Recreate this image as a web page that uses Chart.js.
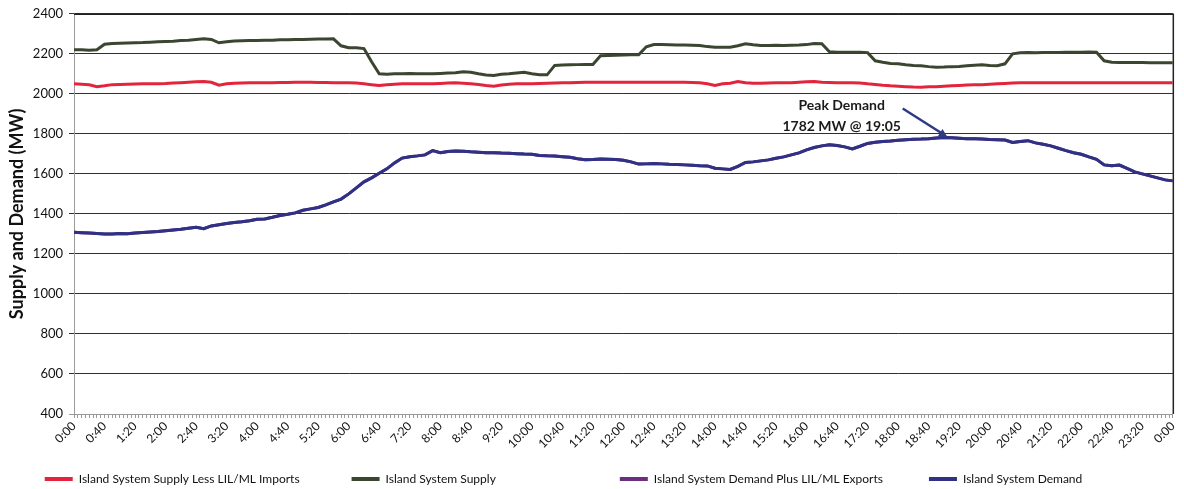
<!DOCTYPE html>
<html>
<head>
<meta charset="utf-8">
<script src="https://cdn.jsdelivr.net/npm/chart.js@4.4.1/dist/chart.umd.min.js"></script>
<style>
  html, body { margin: 0; padding: 0; background: #fff; }
  #wrap { width: 1184px; height: 489px; position: relative; }
</style>
</head>
<body>
<div id="wrap"><canvas id="supplyChart"></canvas></div>
<script>
// readings every 10 minutes, 0:00 -> 24:00 (one row per hour)
const stepMinutes = 10;

const supplyLessImports = [
  2050, 2048, 2045, 2036, 2040, 2046,
  2047, 2048, 2049, 2050, 2050, 2051,
  2052, 2054, 2056, 2058, 2060, 2062,
  2058, 2043, 2050, 2053, 2054, 2055,
  2055, 2056, 2056, 2057, 2057, 2058,
  2058, 2058, 2057, 2057, 2056, 2055,
  2055, 2054, 2050, 2046, 2042, 2046,
  2048, 2050, 2050, 2051, 2050, 2050,
  2052, 2054, 2055, 2053, 2050, 2047,
  2042, 2038, 2044, 2048, 2050, 2050,
  2050, 2052, 2053, 2054, 2055, 2056,
  2057, 2058, 2058, 2058, 2058, 2058,
  2058, 2058, 2058, 2058, 2058, 2058,
  2058, 2058, 2058, 2057, 2055, 2050,
  2042, 2050, 2053, 2062, 2056, 2053,
  2053, 2054, 2055, 2055, 2056, 2058,
  2060, 2062, 2058, 2057, 2056, 2055,
  2055, 2054, 2050, 2047, 2043, 2040,
  2038, 2036, 2034, 2033, 2035, 2036,
  2038, 2040, 2042, 2044, 2045, 2046,
  2048, 2050, 2052, 2054, 2055, 2055,
  2055, 2056, 2056, 2056, 2056, 2056,
  2056, 2056, 2055, 2055, 2055, 2055,
  2055, 2055, 2056, 2056, 2055, 2055,
  2055
];

const islandSupply = [
  2220, 2220, 2218, 2220, 2248, 2252,
  2253, 2254, 2255, 2256, 2258, 2260,
  2262, 2263, 2266, 2268, 2272, 2275,
  2272, 2255, 2260, 2264, 2265, 2266,
  2267, 2268, 2268, 2270, 2270, 2271,
  2272, 2273, 2274, 2274, 2275, 2240,
  2230, 2230, 2226, 2160, 2100, 2098,
  2100, 2100, 2102, 2100, 2101, 2100,
  2102, 2104, 2106, 2110, 2108, 2100,
  2094, 2092, 2098, 2100, 2104, 2108,
  2100, 2096, 2095, 2142, 2144, 2145,
  2146, 2147, 2147, 2190, 2192, 2193,
  2194, 2195, 2195, 2235, 2246, 2246,
  2245, 2244, 2244, 2243, 2242, 2236,
  2233, 2233, 2233, 2240, 2250, 2245,
  2242, 2242, 2243, 2242, 2243, 2244,
  2246, 2252, 2250, 2210, 2208, 2208,
  2208, 2208, 2206, 2165, 2158, 2152,
  2150, 2145, 2142, 2140, 2136, 2133,
  2134, 2136, 2137, 2140, 2143, 2145,
  2142, 2141, 2150, 2200, 2205, 2206,
  2205, 2206, 2206, 2207, 2208, 2208,
  2208, 2209, 2208, 2165, 2158, 2157,
  2157, 2156, 2156, 2155, 2155, 2155,
  2155
];

const islandDemand = [
  1308, 1306, 1304, 1302, 1300, 1300,
  1302, 1301, 1304, 1307, 1310, 1312,
  1316, 1320, 1323, 1328, 1333, 1326,
  1340, 1346, 1352, 1357, 1361, 1366,
  1373, 1375, 1383, 1392, 1398, 1405,
  1418, 1425, 1432, 1445, 1460, 1474,
  1500, 1530, 1560, 1580, 1603, 1625,
  1655, 1679, 1686, 1690, 1695, 1716,
  1706, 1712, 1714, 1713, 1710, 1708,
  1706, 1706, 1704, 1703, 1701, 1699,
  1698, 1692, 1690, 1689, 1686, 1683,
  1676, 1671, 1672, 1674, 1673, 1672,
  1668, 1660, 1649, 1650, 1652, 1650,
  1648, 1647, 1645, 1643, 1641, 1640,
  1628, 1625, 1622, 1638, 1657, 1660,
  1665, 1670, 1678, 1685, 1695, 1705,
  1720, 1732, 1740, 1746, 1742, 1735,
  1725, 1738, 1752, 1758, 1762, 1764,
  1768, 1771, 1773, 1774, 1776, 1779,
  1782, 1780, 1778, 1776, 1775, 1774,
  1772, 1771, 1769, 1757, 1762, 1766,
  1755, 1748, 1740, 1728, 1716, 1706,
  1698, 1685, 1673, 1645, 1641, 1644,
  1628, 1610, 1600, 1590, 1580, 1570,
  1565
];

// no exports on this day, so this one sits right under the demand line
const demandPlusExports = islandDemand.slice();

const seriesNames = [
  'Island System Supply Less LIL/ML Imports',
  'Island System Supply',
  'Island System Demand Plus LIL/ML Exports',
  'Island System Demand'
];

const labelEveryMinutes = 40;
const minorTickMinutes = 5;
const yMin = 400, yMax = 2400, yStep = 200;
const peak = { minute: 1145, value: 1782, lines: ['Peak Demand', '1782 MW @ 19:05'] };

const FONT = 'Lato, "Open Sans", "Liberation Sans", sans-serif';
// extra room after each legend entry (en spaces), the Excel legend is spread out unevenly
const legendTail = [7, 19, 6, 9];

function toPoints(values) {
  return values.map((v, i) => ({ x: i * stepMinutes, y: v }));
}

function clockLabel(m) {
  const h = Math.floor(m / 60) % 24;
  const mm = m % 60;
  return h + ':' + String(mm).padStart(2, '0');
}

// black top / right edge of the plot
const plotFrame = {
  id: 'plotFrame',
  beforeDatasetsDraw(chart) {
    const { ctx, chartArea: a } = chart;
    ctx.save();
    ctx.strokeStyle = '#222';
    ctx.lineWidth = 1.5;
    ctx.beginPath();
    ctx.moveTo(a.left, a.top + 0.5);
    ctx.lineTo(a.right + 0.5, a.top + 0.5);
    ctx.lineTo(a.right + 0.5, a.bottom);
    ctx.stroke();
    ctx.restore();
  }
};

// peak demand callout with arrow
const peakNote = {
  id: 'peakNote',
  afterDatasetsDraw(chart) {
    const { ctx, scales: { x, y } } = chart;
    const tx = x.getPixelForValue(peak.minute);
    const ty = y.getPixelForValue(peak.value);
    const sx = tx - 45, sy = ty - 29;
    ctx.save();
    ctx.strokeStyle = '#2e3a86';
    ctx.fillStyle = '#2e3a86';
    ctx.lineWidth = 2.5;
    ctx.beginPath();
    ctx.moveTo(sx, sy);
    ctx.lineTo(tx - 4, ty - 3);
    ctx.stroke();
    const ang = Math.atan2(ty - sy, tx - sx);
    ctx.beginPath();
    ctx.moveTo(tx, ty);
    ctx.lineTo(tx - 10 * Math.cos(ang - 0.45), ty - 10 * Math.sin(ang - 0.45));
    ctx.lineTo(tx - 10 * Math.cos(ang + 0.45), ty - 10 * Math.sin(ang + 0.45));
    ctx.closePath();
    ctx.fill();
    ctx.fillStyle = '#1a1a1a';
    ctx.font = 'bold 14px ' + FONT;
    ctx.textAlign = 'center';
    ctx.textBaseline = 'alphabetic';
    ctx.fillText(peak.lines[0], tx - 106, ty - 27);
    ctx.fillText(peak.lines[1], tx - 106, ty - 6);
    ctx.restore();
  }
};

const lineStyle = {
  borderWidth: 3,
  pointRadius: 0,
  tension: 0,
  fill: false
};

new Chart(document.getElementById('supplyChart'), {
  type: 'line',
  data: {
    datasets: [
      { ...lineStyle, label: seriesNames[0], data: toPoints(supplyLessImports),
        borderColor: '#e2243c', backgroundColor: '#e2243c', order: 0 },
      { ...lineStyle, label: seriesNames[1], data: toPoints(islandSupply),
        borderColor: '#3a4630', backgroundColor: '#3a4630', order: 1 },
      { ...lineStyle, label: seriesNames[2], data: toPoints(demandPlusExports),
        borderColor: '#6a2f80', backgroundColor: '#6a2f80', order: 3 },
      { ...lineStyle, label: seriesNames[3], data: toPoints(islandDemand),
        borderColor: '#2e3184', backgroundColor: '#2e3184', order: 2 }
    ]
  },
  options: {
    responsive: true,
    maintainAspectRatio: false,
    animation: false,
    layout: { padding: { top: 12, right: 9, left: 6, bottom: -6 } },
    plugins: {
      tooltip: { enabled: false },
      legend: {
        position: 'bottom',
        labels: {
          color: '#111',
          font: { family: FONT, size: 12 },
          boxWidth: 28,
          boxHeight: 4,
          padding: 10,
          sort: (a, b) => a.datasetIndex - b.datasetIndex,
          generateLabels(chart) {
            return Chart.defaults.plugins.legend.labels.generateLabels(chart).map(l => {
              l.lineWidth = 0;
              l.text = l.text + '\u2002'.repeat(legendTail[l.datasetIndex]);
              return l;
            });
          }
        }
      }
    },
    scales: {
      x: {
        type: 'linear',
        min: 0,
        max: 1440,
        afterFit(scale) { scale.height = 49; },
        ticks: {
          stepSize: minorTickMinutes,
          autoSkip: false,
          minRotation: 45,
          maxRotation: 45,
          padding: 1,
          color: '#111',
          font: { family: FONT, size: 12 },
          callback: v => (v % labelEveryMinutes === 0 ? clockLabel(v) : '')
        },
        grid: {
          drawOnChartArea: false,
          drawTicks: true,
          tickLength: 4,
          color: '#9a9a9a'
        },
        border: { color: '#9a9a9a', width: 1 }
      },
      y: {
        min: yMin,
        max: yMax,
        afterFit(scale) { scale.width = 68; },
        ticks: {
          stepSize: yStep,
          color: '#111',
          padding: 6,
          font: { family: FONT, size: 13 },
          callback: v => String(v)
        },
        grid: {
          tickLength: 5,
          color: ctx => {
            const v = ctx.tick && ctx.tick.value;
            if (v === yMax) return '#333';
            if (v === yMin) return '#9a9a9a';
            return '#1f2a72';
          },
          lineWidth: 1
        },
        border: { color: '#9a9a9a', width: 1 },
        title: {
          display: true,
          text: 'Supply and Demand (MW)',
          color: '#111',
          padding: { top: 0, bottom: 2 },
          font: { family: FONT, size: 18, weight: 'bold' }
        }
      }
    }
  },
  plugins: [plotFrame, peakNote]
});
</script>
</body>
</html>
